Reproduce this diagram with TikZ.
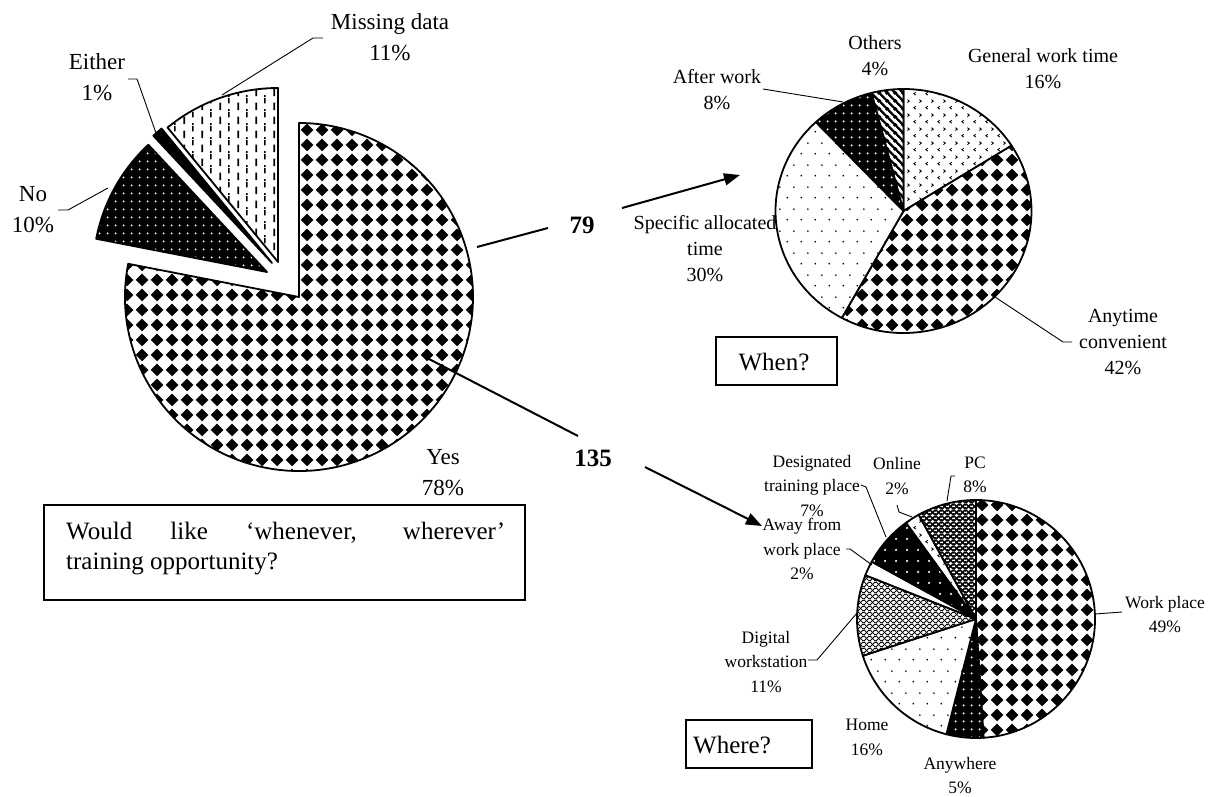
\documentclass[tikz,border=0pt]{standalone}
\usepackage{fontspec}
\setmainfont{Liberation Serif}
\usetikzlibrary{arrows.meta,patterns.meta}

\tikzdeclarepattern{
  name=diam, type=colored,
  bottom left={(0pt,0pt)}, top right={(15pt,15pt)}, tile size={(15pt,15pt)},
  code={
    \tikzset{x=1pt,y=1pt}
    \fill[black] (7.5,0.8) -- (14.2,7.5) -- (7.5,14.2) -- (0.8,7.5) -- cycle;
  }
}
\tikzdeclarepattern{
  name=wdots, type=colored,
  bottom left={(0pt,0pt)}, top right={(8pt,8pt)}, tile size={(8pt,8pt)},
  code={
    \tikzset{x=1pt,y=1pt}
    \fill[white] (4,4) circle[radius=1.2];
  }
}
\tikzdeclarepattern{
  name=wdotswide, type=colored,
  bottom left={(0pt,0pt)}, top right={(11pt,11pt)}, tile size={(11pt,11pt)},
  code={
    \tikzset{x=1pt,y=1pt}
    \fill[white] (5.5,5.5) circle[radius=1.3];
  }
}
\tikzdeclarepattern{
  name=sparsedots, type=colored,
  bottom left={(0pt,0pt)}, top right={(14pt,22pt)}, tile size={(14pt,22pt)},
  code={
    \tikzset{x=1pt,y=1pt}
    \fill[black] (3.5,5.5) circle[radius=1];
    \fill[black] (10.5,16.5) circle[radius=1];
  }
}
\tikzdeclarepattern{
  name=chev, type=colored,
  bottom left={(0pt,0pt)}, top right={(12pt,14pt)}, tile size={(12pt,14pt)},
  code={
    \tikzset{x=1pt,y=1pt}
    \draw[black, line width=0.9pt] (4,5) -- (2,3.5) -- (4,2);
    \draw[black, line width=0.9pt] (8,12) -- (10,10.5) -- (8,9);
  }
}
\tikzdeclarepattern{
  name=vdash, type=colored,
  bottom left={(0pt,0pt)}, top right={(18pt,14pt)}, tile size={(18pt,14pt)},
  code={
    \tikzset{x=1pt,y=1pt}
    \draw[black, line width=1.7pt] (4.5,1) -- (4.5,9);
    \draw[black, line width=1.7pt] (13.5,8) -- (13.5,14);
    \draw[black, line width=1.7pt] (13.5,0) -- (13.5,2);
  }
}
\tikzdeclarepattern{
  name=stripes, type=colored,
  bottom left={(0pt,0pt)}, top right={(8pt,8pt)}, tile size={(8pt,8pt)},
  code={
    \tikzset{x=1pt,y=1pt}
    \draw[black, line width=2.6pt] (-2,10) -- (10,-2);
    \draw[black, line width=2.6pt] (-2,2) -- (2,-2);
    \draw[black, line width=2.6pt] (6,10) -- (10,6);
  }
}
\tikzdeclarepattern{
  name=xhatch, type=colored,
  bottom left={(0pt,0pt)}, top right={(6pt,6pt)}, tile size={(6pt,6pt)},
  code={
    \tikzset{x=1pt,y=1pt}
    \draw[black, line width=0.9pt] (-1,-1) -- (7,7);
    \draw[black, line width=0.9pt] (-1,7) -- (7,-1);
  }
}
\tikzdeclarepattern{
  name=xhatchdark, type=colored,
  bottom left={(0pt,0pt)}, top right={(6pt,6pt)}, tile size={(6pt,6pt)},
  code={
    \tikzset{x=1pt,y=1pt}
    \draw[black, line width=1.7pt] (-1,-1) -- (7,7);
    \draw[black, line width=1.7pt] (-1,7) -- (7,-1);
  }
}

\tikzset{
  slice/.style={draw=black, line width=1.8pt, line join=round, preaction={fill=white}},
  darkslice/.style={draw=black, line width=1.8pt, line join=round, preaction={fill=black}},
  leader/.style={draw=black, line width=0.9pt},
  conn/.style={draw=black, line width=2pt},
  arr/.style={draw=black, line width=2pt, -{Triangle[length=16pt,width=12pt]}},
  mainlbl/.style={align=center, inner sep=0pt, font=\fontsize{23}{31}\selectfont},
  whenlbl/.style={align=center, inner sep=0pt, font=\fontsize{20}{26}\selectfont},
  wherelbl/.style={align=center, inner sep=0pt, font=\fontsize{17.5}{24.5}\selectfont},
  numlbl/.style={inner sep=0pt, font=\fontsize{25}{30}\selectfont\bfseries},
  qbox/.style={draw=black, line width=1.8pt, fill=white},
  qtxt/.style={inner sep=0pt, font=\fontsize{25}{30}\selectfont},
}

\begin{document}
\begin{tikzpicture}[x=1pt,y=1pt]
\useasboundingbox (0,0) rectangle (1210,-797);

% ---------------- main pie ----------------
\coordinate (c0) at (299,-297);
\coordinate (cNo) at (267,-272);
\coordinate (cEi) at (272,-263);
\coordinate (cMi) at (278,-262);
\draw[slice, pattern=diam] (c0) -- ++(-191:174) arc[start angle=-191, end angle=90, radius=174] -- cycle;
\draw[darkslice, pattern=wdots] (cNo) -- ++(133:174) arc[start angle=133, end angle=169, radius=174] -- cycle;
\draw[darkslice] (cEi) -- ++(129.4:174) arc[start angle=129.4, end angle=133, radius=174] -- cycle;
\draw[slice, pattern=vdash] (cMi) -- ++(90:174) arc[start angle=90, end angle=129.4, radius=174] -- cycle;

\node[mainlbl] (lMiss) at (390,-37) {Missing data\\11\%};
\node[mainlbl] (lEither) at (97,-77.5) {Either\\1\%};
\node[mainlbl] (lNo) at (33,-209.5) {No\\10\%};
\node[mainlbl] (lYes) at (443,-472.5) {Yes\\78\%};

\coordinate (m1) at (323,-38); \coordinate (m2) at (313,-38); \coordinate (m3) at (222,-95);
\draw[leader] (m1) -- (m2) -- (m3);
\coordinate (e1) at (128,-79); \coordinate (e2) at (137,-79); \coordinate (e3) at (156,-133);
\draw[leader] (e1) -- (e2) -- (e3);
\coordinate (n1) at (58,-210); \coordinate (n2) at (68,-210); \coordinate (n3) at (108,-188);
\draw[leader] (n1) -- (n2) -- (n3);

% question box
\node[qbox, minimum width=481pt, minimum height=95pt, inner sep=0pt] (qmain) at (284.5,-552.5) {};
\node[qtxt, anchor=north west, text width=439pt, align=justify] (qmaintxt) at (66,-522)
  {Would like ‘whenever, wherever’\linebreak training opportunity?};

% numbers and connectors
\node[numlbl] (n79) at (582,-225) {79};
\node[numlbl] (n135) at (593,-458) {135};
\coordinate (a79s) at (477,-247); \coordinate (a79e) at (548,-228);
\draw[conn] (a79s) -- (a79e);
\coordinate (a135s) at (427,-358); \coordinate (a135e) at (578,-436);
\draw[conn] (a135s) -- (a135e);
\coordinate (w1) at (622,-208); \coordinate (w2) at (740,-175);
\draw[arr] (w1) -- (w2);
\coordinate (h1) at (645,-467); \coordinate (h2) at (762,-526);
\draw[arr] (h1) -- (h2);

% ---------------- When pie ----------------
\coordinate (c1) at (903.5,-211);
\draw[slice, pattern=chev] (c1) -- ++(32.4:128 and 122) arc[start angle=32.4, end angle=90, x radius=128, y radius=122] -- cycle;
\draw[slice, pattern=diam] (c1) -- ++(-118.8:128 and 122) arc[start angle=-118.8, end angle=32.4, x radius=128, y radius=122] -- cycle;
\draw[slice, pattern=sparsedots] (c1) -- ++(133.2:128 and 122) arc[start angle=133.2, end angle=241.2, x radius=128, y radius=122] -- cycle;
\draw[darkslice, pattern=wdots] (c1) -- ++(104.4:128 and 122) arc[start angle=104.4, end angle=133.2, x radius=128, y radius=122] -- cycle;
\draw[slice, pattern=stripes] (c1) -- ++(90:128 and 122) arc[start angle=90, end angle=104.4, x radius=128, y radius=122] -- cycle;

\node[whenlbl] (lOthers) at (875,-55.5) {Others\\4\%};
\node[whenlbl] (lGen) at (1043,-68.5) {General work time\\16\%};
\node[whenlbl] (lAfter) at (717,-89.5) {After work\\8\%};
\node[whenlbl] (lSpec) at (705,-249) {Specific allocated\\time\\30\%};
\node[whenlbl] (lAny) at (1123,-342.5) {Anytime\\convenient\\42\%};

\coordinate (aw1) at (763,-89); \coordinate (aw2) at (843,-102);
\draw[leader] (aw1) -- (aw2);
\coordinate (ac1) at (995,-297); \coordinate (ac2) at (1063,-342); \coordinate (ac3) at (1072,-342);
\draw[leader] (ac1) -- (ac2) -- (ac3);

\node[qbox, minimum width=121pt, minimum height=48pt, inner sep=0pt] (qwhen) at (776.5,-361) {};
\node[qtxt] (qwhentxt) at (774,-362) {When?};

% ---------------- Where pie ----------------
\coordinate (c2) at (976,-619);
\draw[slice, pattern=diam] (c2) -- ++(-86.4:119) arc[start angle=-86.4, end angle=90, radius=119] -- cycle;
\draw[darkslice, pattern=wdots] (c2) -- ++(-104.4:119) arc[start angle=-104.4, end angle=-86.4, radius=119] -- cycle;
\draw[slice, pattern=sparsedots] (c2) -- ++(-162:119) arc[start angle=-162, end angle=-104.4, radius=119] -- cycle;
\draw[slice, pattern=xhatch] (c2) -- ++(158.4:119) arc[start angle=158.4, end angle=198, radius=119] -- cycle;
\draw[slice] (c2) -- ++(151.2:119) arc[start angle=151.2, end angle=158.4, radius=119] -- cycle;
\draw[darkslice, pattern=wdotswide] (c2) -- ++(126:119) arc[start angle=126, end angle=151.2, radius=119] -- cycle;
\draw[slice, pattern=chev] (c2) -- ++(118.8:119) arc[start angle=118.8, end angle=126, radius=119] -- cycle;
\draw[slice, pattern=xhatchdark] (c2) -- ++(90:119) arc[start angle=90, end angle=118.8, radius=119] -- cycle;

\node[wherelbl] (lWork) at (1165,-614.5) {Work place\\49\%};
\node[wherelbl] (lPC) at (975,-475) {PC\\8\%};
\node[wherelbl] (lOnline) at (897,-476) {Online\\2\%};
\node[wherelbl] (lDesig) at (812,-486) {Designated\\training place\\7\%};
\node[wherelbl] (lAway) at (802,-549) {Away from\\work place\\2\%};
\node[wherelbl] (lDig) at (766,-662) {Digital\\workstation\\11\%};
\node[wherelbl] (lHome) at (867,-737.5) {Home\\16\%};
\node[wherelbl, font=\fontsize{17.5}{24}\selectfont] (lAnyw) at (960,-775.5) {Anywhere\\5\%};

\coordinate (wp1) at (1095,-614); \coordinate (wp2) at (1122,-612);
\draw[leader] (wp1) -- (wp2);
\coordinate (pc1) at (955,-476); \coordinate (pc2) at (951,-476); \coordinate (pc3) at (947,-501);
\draw[leader] (pc1) -- (pc2) -- (pc3);
\coordinate (on1) at (897,-505); \coordinate (on2) at (899,-512); \coordinate (on3) at (912,-517);
\draw[leader] (on1) -- (on2) -- (on3);
\coordinate (dt1) at (861,-485); \coordinate (dt2) at (866,-487); \coordinate (dt3) at (886,-537);
\draw[leader] (dt1) -- (dt2) -- (dt3);
\coordinate (aw3) at (846,-549); \coordinate (aw4) at (850,-549); \coordinate (aw5) at (872,-565);
\draw[leader] (aw3) -- (aw4) -- (aw5);
\coordinate (dg1) at (808,-660); \coordinate (dg2) at (817,-660); \coordinate (dg3) at (857,-613);
\draw[leader] (dg1) -- (dg2) -- (dg3);

\node[qbox, minimum width=126pt, minimum height=48pt, inner sep=0pt] (qwhere) at (749,-744) {};
\node[qtxt] (qwheretxt) at (732,-745) {Where?};
\end{tikzpicture}
\end{document}
